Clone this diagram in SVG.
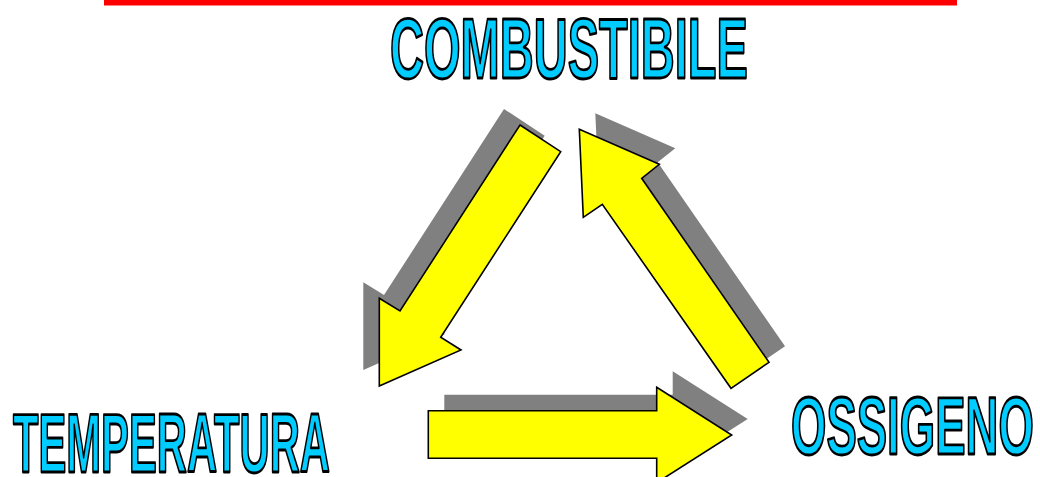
<svg xmlns="http://www.w3.org/2000/svg" width="1040" height="477" viewBox="0 0 1040 477">
<style>
.lbl{font-family:"Liberation Sans",Arial,sans-serif;font-weight:bold;fill:#00CCFF;stroke:#000;stroke-width:2.8;stroke-linejoin:round}
.arr{fill:#FFFF00;stroke:#000;stroke-width:1.6;stroke-linejoin:miter}
.sh{fill:#808080;stroke:none}
</style>
<rect x="104" y="0" width="853" height="5.5" fill="#FF0000"/>
<g id="combustibile"><text class="lbl" transform="translate(390,78) scale(0.547,1)" x="0" y="0" font-size="86">COMBUSTIBILE</text></g>
<g id="temperatura"><text class="lbl" transform="translate(13,472) scale(0.503,1)" x="0" y="0" font-size="83">TEMPERATURA</text></g>
<g id="ossigeno"><text class="lbl" transform="translate(791,454) scale(0.562,1)" x="0" y="0" font-size="81">OSSIGENO</text></g>
<g id="connectors">
<g id="arrow-left">
<polygon class="sh" transform="translate(-16,-16)" points="520,125 560.7,151.7 440.7,337.3 461,350 379.3,386 379.3,298.3 400,311"/>
<polygon class="arr" points="520,125 560.7,151.7 440.7,337.3 461,350 379.3,386 379.3,298.3 400,311"/>
</g>
<g id="arrow-right">
<polygon class="sh" transform="translate(16,-16)" points="579.3,129.3 659.3,164.3 641.7,178.3 769,362.3 731,388.3 602.3,204.3 583.3,217.3"/>
<polygon class="arr" points="579.3,129.3 659.3,164.3 641.7,178.3 769,362.3 731,388.3 602.3,204.3 583.3,217.3"/>
</g>
<g id="arrow-bottom">
<polygon class="sh" transform="translate(16,-16)" points="428.3,410.7 656.7,410.7 656.7,387.3 731.7,435 656.7,482.7 656.7,458.3 428.3,458.3"/>
<polygon class="arr" points="428.3,410.7 656.7,410.7 656.7,387.3 731.7,435 656.7,482.7 656.7,458.3 428.3,458.3"/>
</g>
</g>
</svg>
